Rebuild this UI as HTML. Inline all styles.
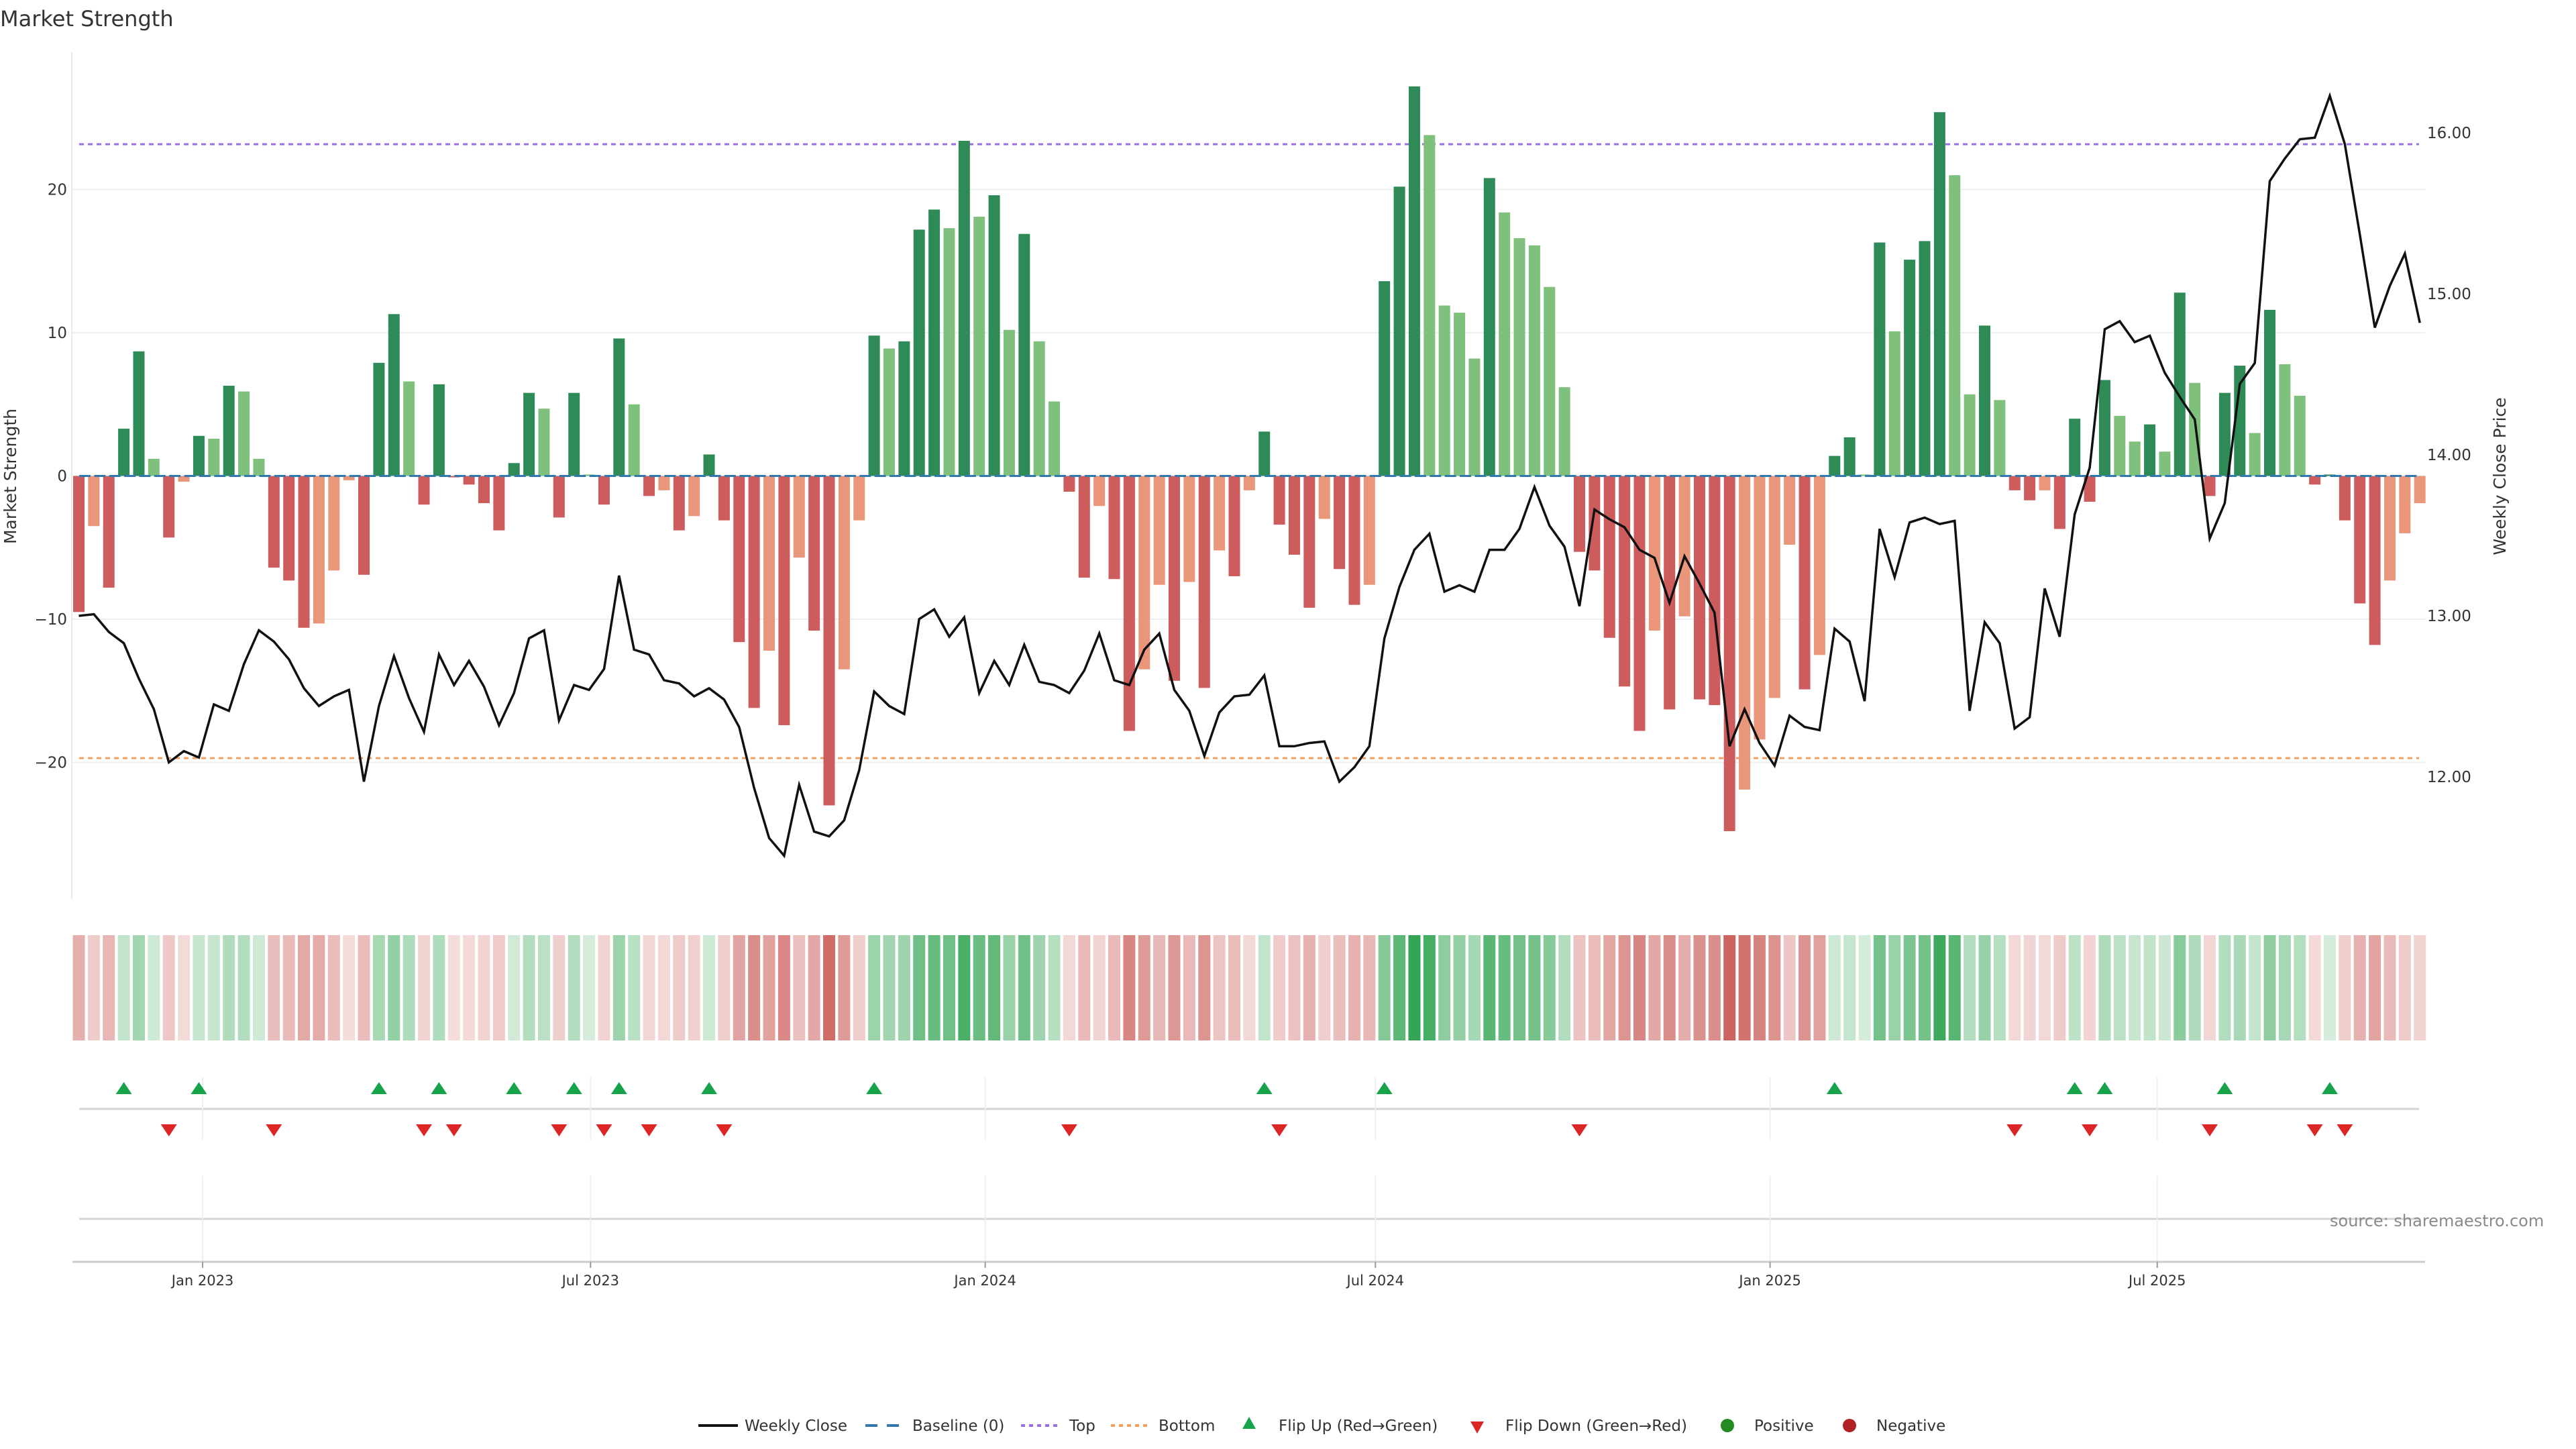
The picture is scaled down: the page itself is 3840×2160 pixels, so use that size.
<!DOCTYPE html>
<html><head><meta charset="utf-8">
<style>
html,body{margin:0;padding:0;background:#fff;}
svg{display:block;font-family:"DejaVu Sans","Liberation Sans",sans-serif;}
</style></head>
<body>
<svg id="chart" width="3840" height="2160" viewBox="0 0 3840 2160" xmlns="http://www.w3.org/2000/svg">
<rect x="0" y="0" width="3840" height="2160" fill="#fff"/>
<text x="0" y="39" font-size="32" fill="#333">Market Strength</text>
<g id="grid"></g>
<g id="refs"></g>
<g id="bars"></g>
<g id="baseline"></g>
<g id="price"></g>
<g id="yaxis"></g>
<g id="y2axis"></g>
<g id="heat"></g>
<g id="flips"></g>
<g id="xaxis"></g>
<text x="3473" y="1828" font-size="24" fill="#8a8a8a">source: sharemaestro.com</text>
<text transform="translate(24,710) rotate(-90)" text-anchor="middle" font-size="25" fill="#333">Market Strength</text>
<text transform="translate(3735,710) rotate(-90)" text-anchor="middle" font-size="25" fill="#333">Weekly Close Price</text>
<g id="legend" font-size="23" fill="#333">
  <g>
    <line x1="1041" y1="2125" x2="1100" y2="2125" stroke="#111" stroke-width="4"/>
    <text x="1110" y="2133">Weekly Close</text></g>
  <g>
    <line x1="1290" y1="2125" x2="1344" y2="2125" stroke="#2f78b0" stroke-width="4" stroke-dasharray="18,14"/>
    <text x="1360" y="2133">Baseline (0)</text></g>
  <g>
    <line x1="1522" y1="2125" x2="1578" y2="2125" stroke="#9b6fe0" stroke-width="4" stroke-dasharray="6,6"/>
    <text x="1594" y="2133">Top</text></g>
  <g>
    <line x1="1656" y1="2125" x2="1710" y2="2125" stroke="#f0a060" stroke-width="4" stroke-dasharray="6,6"/>
    <text x="1727" y="2133">Bottom</text></g>
  <g>
    <polygon points="1862,2112 1872,2130 1852,2130" fill="#16a34a"/>
    <text x="1906" y="2133">Flip Up (Red→Green)</text></g>
  <g>
    <polygon points="2192,2119 2212,2119 2202,2137" fill="#dc2626"/>
    <text x="2244" y="2133">Flip Down (Green→Red)</text></g>
  <g>
    <circle cx="2575" cy="2125" r="10" fill="#228b22"/>
    <text x="2615" y="2133">Positive</text></g>
  <g>
    <circle cx="2757" cy="2125" r="10" fill="#b22222"/>
    <text x="2797" y="2133">Negative</text></g>
</g>
</svg>
<script>
const strength = [-9.5,-3.5,-7.8,3.3,8.7,1.2,-4.3,-0.4,2.8,2.6,6.3,5.9,1.2,-6.4,-7.3,-10.6,-10.3,-6.6,-0.3,-6.9,
7.9,11.3,6.6,-2.0,6.4,-0.1,-0.6,-1.9,-3.8,0.9,5.8,4.7,-2.9,5.8,0.1,-2.0,9.6,5.0,-1.4,-1.0,
-3.8,-2.8,1.5,-3.1,-11.6,-16.2,-12.2,-17.4,-5.7,-10.8,-23.0,-13.5,-3.1,9.8,8.9,9.4,17.2,18.6,17.3,23.4,
18.1,19.6,10.2,16.9,9.4,5.2,-1.1,-7.1,-2.1,-7.2,-17.8,-13.5,-7.6,-14.3,-7.4,-14.8,-5.2,-7.0,-1.0,3.1,
-3.4,-5.5,-9.2,-3.0,-6.5,-9.0,-7.6,13.6,20.2,27.2,23.8,11.9,11.4,8.2,20.8,18.4,16.6,16.1,13.2,6.2,
-5.3,-6.6,-11.3,-14.7,-17.8,-10.8,-16.3,-9.8,-15.6,-16.0,-24.8,-21.9,-18.4,-15.5,-4.8,-14.9,-12.5,1.4,2.7,0.1,
16.3,10.1,15.1,16.4,25.4,21.0,5.7,10.5,5.3,-1.0,-1.7,-1.0,-3.7,4.0,-1.8,6.7,4.2,2.4,3.6,1.7,
12.8,6.5,-1.4,5.8,7.7,3.0,11.6,7.8,5.6,-0.6,0.1,-3.1,-8.9,-11.8,-7.3,-4.0,-1.9];
const closes = [13.00,13.01,12.90,12.83,12.61,12.42,12.09,12.16,12.12,12.45,12.41,12.70,12.91,12.84,12.73,12.55,12.44,12.50,12.54,11.97,
12.44,12.75,12.49,12.28,12.76,12.57,12.72,12.56,12.32,12.52,12.86,12.91,12.35,12.57,12.54,12.67,13.25,12.79,12.76,12.60,
12.58,12.50,12.55,12.48,12.31,11.93,11.62,11.51,11.95,11.66,11.63,11.73,12.04,12.53,12.44,12.39,12.98,13.04,12.87,12.99,
12.52,12.72,12.57,12.82,12.59,12.57,12.52,12.66,12.89,12.60,12.57,12.79,12.89,12.54,12.41,12.13,12.40,12.50,12.51,12.63,
12.19,12.19,12.21,12.22,11.97,12.06,12.19,12.86,13.18,13.41,13.51,13.15,13.19,13.15,13.41,13.41,13.54,13.80,13.56,13.43,
13.06,13.66,13.60,13.55,13.41,13.36,13.08,13.37,13.20,13.02,12.19,12.42,12.21,12.07,12.38,12.31,12.29,12.92,12.84,12.47,
13.54,13.24,13.58,13.61,13.57,13.59,12.41,12.96,12.83,12.30,12.37,13.17,12.87,13.63,13.92,14.78,14.83,14.70,14.74,14.51,
14.36,14.22,13.48,13.70,14.44,14.57,15.70,15.84,15.96,15.97,16.23,15.93,15.37,14.79,15.05,15.25,14.82];
const yTicks = [-20,-10,0,10,20];
const y2Ticks = [12,13,14,15,16];
const topLevel = 23.16;
const bottomLevel = -19.7;
const dateTickLabels = ["Jan 2023","Jul 2023","Jan 2024","Jul 2024","Jan 2025","Jul 2025"];
const dateTickWeeks = [8.25,34.1,60.4,86.4,112.7,138.5];

const NS = "http://www.w3.org/2000/svg";
function mk(tag, attrs, parent){const e=document.createElementNS(NS,tag);for(const k in attrs)e.setAttribute(k,attrs[k]);parent.appendChild(e);return e;}
const X0=117.5, DX=22.37;
function xOf(i){return X0+DX*i;}
function yOf(v){return 709.5 - v*21.35;}
function y2Of(p){return 1158 - (p-12)*240;}
const PL=107, PR=3615;

const grid=document.getElementById('grid');
yTicks.forEach(t=>{const l=mk('line',{x1:PL,x2:PR,y1:yOf(t),y2:yOf(t),stroke:'#edf0f2','stroke-width':2},grid);

});
const spine=mk('line',{x1:PL,x2:PL,y1:78,y2:1340,stroke:'#e8eaec','stroke-width':2},grid);



const refs=document.getElementById('refs');
const tl=mk('line',{x1:118,x2:3606,y1:yOf(topLevel),y2:yOf(topLevel),stroke:'#9b6fe0','stroke-width':3,'stroke-dasharray':'7,6'},refs);


const bl=mk('line',{x1:118,x2:3606,y1:yOf(bottomLevel),y2:yOf(bottomLevel),stroke:'#f0a060','stroke-width':3,'stroke-dasharray':'7,6'},refs);



const bars=document.getElementById('bars');
const heat=document.getElementById('heat');
let maxAbs=0; strength.forEach(v=>{if(Math.abs(v)>maxAbs)maxAbs=Math.abs(v);});
strength.forEach((v,i)=>{
  const prev=i>0?strength[i-1]:0;
  const strengthening=Math.abs(v)>=Math.abs(prev)||(prev*v<0);
  let col;
  if(v>=0) col=strengthening?'#2e8b57':'#80c07d'; else col=strengthening?'#cd5c5c':'#e9967a';
  const y0=yOf(0), y1=yOf(v);
  const r=mk('rect',{x:xOf(i)-8.5,y:Math.min(y0,y1),width:17,height:Math.max(1,Math.abs(y1-y0)),fill:col},bars);
  
  
  const a=0.2+0.78*Math.abs(v)/maxAbs;
  const c=mk('rect',{x:xOf(i)-9,y:1394,width:18,height:157,fill:v>=0?'#2fa350':'#c85550','fill-opacity':a.toFixed(3)},heat);
  
  
});

const base=document.getElementById('baseline');
const bz=mk('line',{x1:118,x2:3606,y1:yOf(0),y2:yOf(0),stroke:'#2f78b0','stroke-width':3,'stroke-dasharray':'17,5.37'},base);



const price=document.getElementById('price');
let d='';closes.forEach((p,i)=>{d+=(i?'L':'M')+xOf(i).toFixed(1)+','+y2Of(p).toFixed(1);});
const pl=mk('path',{d:d,fill:'none',stroke:'#111','stroke-width':3.5,'stroke-linejoin':'miter'},price);



const ya=document.getElementById('yaxis');
yTicks.forEach(t=>{const tx=mk('text',{x:100,y:yOf(t)+8,'text-anchor':'end','font-size':23,fill:'#333'},ya);
tx.textContent=(t<0?'\u2212':'')+Math.abs(t);

});
const y2a=document.getElementById('y2axis');
y2Ticks.forEach(t=>{const tx=mk('text',{x:3618,y:y2Of(t)+8,'font-size':23,fill:'#333'},y2a);
tx.textContent=t.toFixed(2);

});

const flips=document.getElementById('flips');
const fl=mk('line',{x1:118,x2:3606,y1:1653,y2:1653,stroke:'#d4d4d4','stroke-width':3},flips);


const l2=mk('line',{x1:118,x2:3606,y1:1817,y2:1817,stroke:'#d4d4d4','stroke-width':3},flips);


dateTickWeeks.forEach(w=>{
  const x=xOf(w);
  const g1=mk('line',{x1:x,x2:x,y1:1606,y2:1699,stroke:'#eceff1','stroke-width':2},flips);
  
  
  const g2=mk('line',{x1:x,x2:x,y1:1753,y2:1881,stroke:'#eceff1','stroke-width':2},flips);
  
  
});
strength.forEach((v,i)=>{
  if(i===0)return;
  const p=strength[i-1], x=xOf(i);
  if(p<0&&v>=0){const t=mk('polygon',{points:`${x},1613 ${x+12},1631 ${x-12},1631`,fill:'#16a34a'},flips);
    
    }
  if(p>=0&&v<0){const t=mk('polygon',{points:`${x-12},1676 ${x+12},1676 ${x},1694`,fill:'#dc2626'},flips);
    
    }
});

const xa=document.getElementById('xaxis');
const ax=mk('line',{x1:108,x2:3615,y1:1881,y2:1881,stroke:'#cccccc','stroke-width':3},xa);


dateTickLabels.forEach((lab,k)=>{
  const x=xOf(dateTickWeeks[k]);
  const tk=mk('line',{x1:x,x2:x,y1:1881,y2:1890,stroke:'#999','stroke-width':2},xa);
  
  
  const tx=mk('text',{x:x,y:1916,'text-anchor':'middle','font-size':21,fill:'#333'},xa);
  tx.textContent=lab;
  
  
});
</script>
</body></html>
